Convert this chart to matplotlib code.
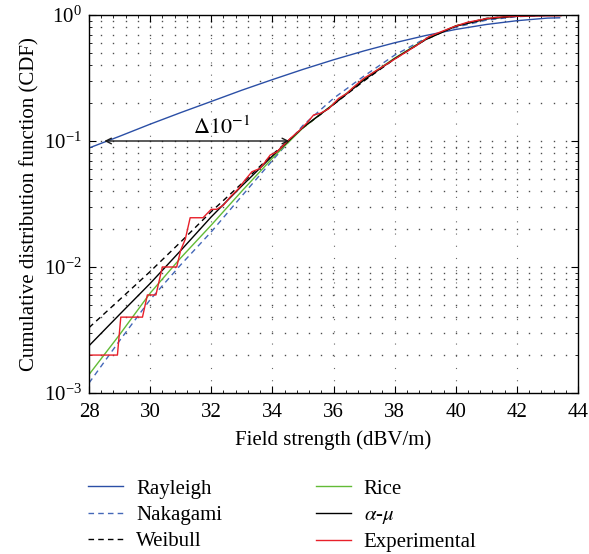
import numpy as np
import matplotlib
matplotlib.use("Agg")
import matplotlib.pyplot as plt
from matplotlib.ticker import MultipleLocator, LogLocator, NullFormatter

plt.rcParams['font.family'] = ['Liberation Serif', 'DejaVu Serif']
plt.rcParams['mathtext.fontset'] = 'stix'

# fitted distributions
x_fit = [28, 29, 30, 31, 32, 33, 34, 35, 36, 37, 38, 39, 40, 41, 42, 43, 43.4]
rayleigh = [0.088, 0.109, 0.136, 0.168, 0.206, 0.253, 0.307, 0.370, 0.441,
            0.519, 0.602, 0.686, 0.768, 0.841, 0.901, 0.945, 0.950]
nakagami = [0.0012, 0.0026, 0.0055, 0.0104, 0.019, 0.0366, 0.070, 0.133, 0.218,
            0.328, 0.480, 0.650, 0.800, 0.910, 0.970, 0.993, 0.996]
weibull = [0.0033, 0.0055, 0.0092, 0.0158, 0.0275, 0.046, 0.078, 0.127, 0.195,
           0.300, 0.448, 0.635, 0.820, 0.940, 0.990, 0.999, 1.0]
rice = [0.0014, 0.0029, 0.0062, 0.0118, 0.0215, 0.040, 0.073, 0.127, 0.197,
        0.310, 0.455, 0.640, 0.820, 0.935, 0.985, 0.998, 0.999]
alpha_mu = [0.00237, 0.0042, 0.0074, 0.0135, 0.025, 0.044, 0.076, 0.128, 0.195,
            0.305, 0.450, 0.635, 0.815, 0.930, 0.980, 0.996, 0.998]

# experimental CDF
x_exp = [28.0, 28.93, 29.04, 29.75, 29.91, 30.19, 30.40, 30.87, 31.00, 31.15,
         31.31, 31.73, 32.0, 32.18, 32.40, 32.62, 32.90, 33.06, 33.33, 33.60,
         33.77, 33.93, 34.15, 34.37, 34.59, 34.90, 35.14, 35.35, 35.57, 35.84,
         36.17, 36.44, 36.61, 36.99, 37.43, 37.87, 38.31, 38.74, 39.12, 39.29,
         39.95, 40.38, 41.04, 41.48, 42.02, 42.6, 43.44]
y_exp = [0.002, 0.002, 0.004, 0.004, 0.006, 0.006, 0.010, 0.010, 0.0136, 0.0166,
         0.0246, 0.0246, 0.0287, 0.0287, 0.031, 0.036, 0.042, 0.0475, 0.057, 0.0607,
         0.0686, 0.0774, 0.082, 0.093, 0.105, 0.122, 0.140, 0.161, 0.166, 0.180,
         0.218, 0.239, 0.262, 0.314, 0.366, 0.426, 0.497, 0.578, 0.673, 0.700,
         0.81, 0.875, 0.94, 0.964, 0.976, 0.983, 0.986]

fs = 15

fig = plt.figure(figsize=(5.89, 5.54), dpi=100)
ax = fig.add_axes([89/589, 1-393/554, 489/589, 378/554])

# MATLAB-like dotted grid: dots at minor intersections, dotted verticals at majors
yg = [m * 10.0**e for e in range(-3, 0) for m in range(1, 10)][1:]
xg = np.arange(28.4, 43.9, 0.4)
XX, YY = np.meshgrid(xg, yg)
ax.plot(XX.ravel(), YY.ravel(), ls='none', marker='s', ms=1.0, mew=0,
        color='0.3', zorder=0)
for xv in [30, 32, 34, 36, 38, 40, 42]:
    ax.axvline(xv, color='0.4', lw=0.8, ls=(0, (1, 10)), zorder=0)

dash = (0, (4, 3))
ax.plot(x_fit, rayleigh, color='#2b4fa6', lw=1.0, label='Rayleigh')
ax.plot(x_fit, nakagami, color='#4468b8', lw=1.0, ls=dash, label='Nakagami')
ax.plot(x_fit, weibull, color='black', lw=1.0, ls=dash, label='Weibull')
ax.plot(x_fit, rice, color='#62bb36', lw=1.0, label='Rice')
ax.plot(x_fit, alpha_mu, color='black', lw=1.0, label=r'$\alpha$-$\mu$')
ax.plot(x_exp, y_exp, color='#e8202a', lw=1.0, label='Experimental')

ax.annotate('', xy=(28.5, 0.1), xytext=(34.55, 0.1),
            arrowprops=dict(arrowstyle='<->', color='0.1', lw=1.0,
                            shrinkA=0, shrinkB=0))
ax.text(32.35, 0.104, r'$\Delta10^{-1}$', ha='center', va='bottom', fontsize=16)

ax.set_yscale('log')
ax.set_xlim(28, 44)
ax.set_ylim(1e-3, 1)
ax.xaxis.set_major_locator(MultipleLocator(2))
ax.xaxis.set_minor_locator(MultipleLocator(0.4))
ax.yaxis.set_major_locator(LogLocator(base=10, numticks=10))
ax.yaxis.set_minor_locator(LogLocator(base=10, subs=np.arange(2, 10), numticks=20))
ax.yaxis.set_minor_formatter(NullFormatter())
ax.tick_params(which='both', direction='in', top=True, right=True, labelsize=fs)
ax.tick_params(which='major', length=5)
ax.tick_params(which='minor', length=2.5)
ax.tick_params(axis='x', which='major', pad=7)
ax.tick_params(axis='y', which='major', pad=5)
for s in ax.spines.values():
    s.set_linewidth(1.0)

ax.set_xlabel('Field strength (dBV/m)', fontsize=fs, labelpad=6)
ax.set_ylabel('Cumulative distribution function (CDF)', fontsize=fs, labelpad=3)

fig.legend(loc='upper left', bbox_to_anchor=(88/589, 1-479/554), ncol=2,
           frameon=False, fontsize=fs, handlelength=1.7, handletextpad=0.6,
           labelspacing=0.33, columnspacing=4.5, borderpad=0, borderaxespad=0)

fig.savefig('out.png', dpi=100)
